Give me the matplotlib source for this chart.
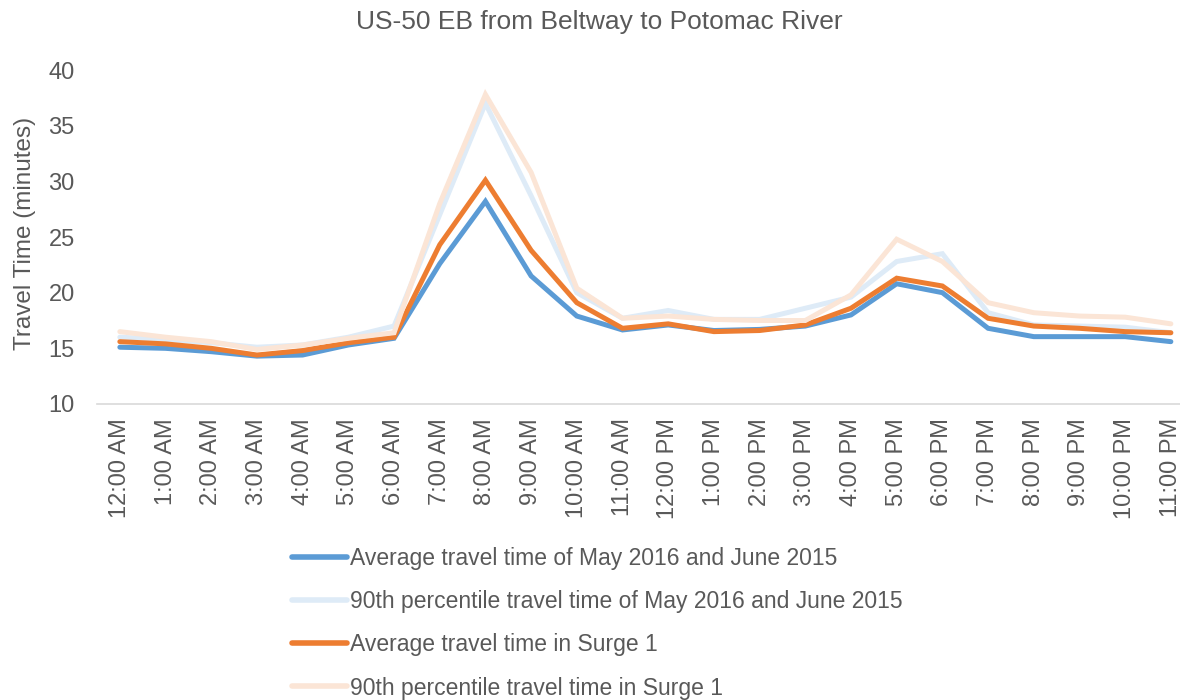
import matplotlib.pyplot as plt

hours = ['12:00 AM', '1:00 AM', '2:00 AM', '3:00 AM', '4:00 AM', '5:00 AM',
         '6:00 AM', '7:00 AM', '8:00 AM', '9:00 AM', '10:00 AM', '11:00 AM',
         '12:00 PM', '1:00 PM', '2:00 PM', '3:00 PM', '4:00 PM', '5:00 PM',
         '6:00 PM', '7:00 PM', '8:00 PM', '9:00 PM', '10:00 PM', '11:00 PM']

avg_base = [15.1, 15.0, 14.7, 14.3, 14.4, 15.3, 15.9, 22.6, 28.2, 21.5, 17.9, 16.65,
            17.1, 16.6, 16.7, 17.0, 18.0, 20.8, 20.0, 16.8, 16.05, 16.05, 16.05, 15.6]
p90_base = [16.0, 15.8, 15.5, 15.1, 15.3, 16.0, 17.0, 27.0, 37.0, 28.7, 20.0, 17.7,
            18.4, 17.6, 17.6, 18.6, 19.6, 22.8, 23.5, 18.2, 17.1, 17.0, 16.9, 16.4]
avg_surge = [15.6, 15.4, 15.0, 14.4, 14.8, 15.5, 16.0, 24.3, 30.1, 23.8, 19.1, 16.8,
             17.2, 16.5, 16.6, 17.1, 18.6, 21.3, 20.6, 17.7, 17.0, 16.8, 16.5, 16.4]
p90_surge = [16.5, 16.0, 15.6, 14.9, 15.3, 15.9, 16.4, 28.0, 37.8, 30.8, 20.4, 17.7,
             17.9, 17.6, 17.5, 17.5, 19.8, 24.8, 22.8, 19.1, 18.2, 17.9, 17.8, 17.2]

labels = ['Average travel time of May 2016 and June 2015',
          '90th percentile travel time of May 2016 and June 2015',
          'Average travel time in Surge 1',
          '90th percentile travel time in Surge 1']
colors = ['#5B9BD5', '#DEEBF7', '#ED7D31', '#FBE5D6']

txt = '#595959'
plt.rcParams['font.family'] = ['Liberation Sans', 'DejaVu Sans']

W, H = 1180, 700
fig = plt.figure(figsize=(11.8, 7), dpi=100)
ax = fig.add_axes([97 / W, 1 - 404 / H, 1 - 97 / W, 334 / H])

x = list(range(len(hours)))
lines = []
for ys, c, lab in zip([avg_base, p90_base, avg_surge, p90_surge], colors, labels):
    ln, = ax.plot(x, ys, color=c, lw=3.6, label=lab, solid_capstyle='round',
                  solid_joinstyle='miter')
    lines.append(ln)

ax.set_xlim(-0.5, 23.2)
ax.set_ylim(10, 40)
ax.set_yticks([10, 15, 20, 25, 30, 35, 40])
ax.set_xticks(x)
ax.set_xticklabels(hours, rotation=90)
ax.tick_params(axis='both', length=0, labelsize=17, colors=txt)
ax.tick_params(axis='y', pad=16)
ax.tick_params(axis='x', pad=10)
for s in ['top', 'right', 'left']:
    ax.spines[s].set_visible(False)
ax.spines['bottom'].set_color('#D9D9D9')
ax.spines['bottom'].set_linewidth(1.2)

fig.text(25 / W, 1 - 233 / H, 'Travel Time (minutes)', rotation=90, ha='center',
         va='center', fontsize=17.5, color=txt)
fig.text(599 / W, 1 - 22 / H, 'US-50 EB from Beltway to Potomac River', ha='center',
         va='center', fontsize=19, color=txt)

leg = fig.legend(handles=lines, loc='upper left', bbox_to_anchor=(292 / W, 1 - 547 / H),
                 frameon=False, fontsize=16.5, handlelength=2.4, handletextpad=0.15,
                 labelspacing=0.88, borderaxespad=0, borderpad=0)
for t in leg.get_texts():
    t.set_color(txt)
for h in leg.get_lines():
    h.set_linewidth(4)

fig.savefig('out.png', dpi=100)
